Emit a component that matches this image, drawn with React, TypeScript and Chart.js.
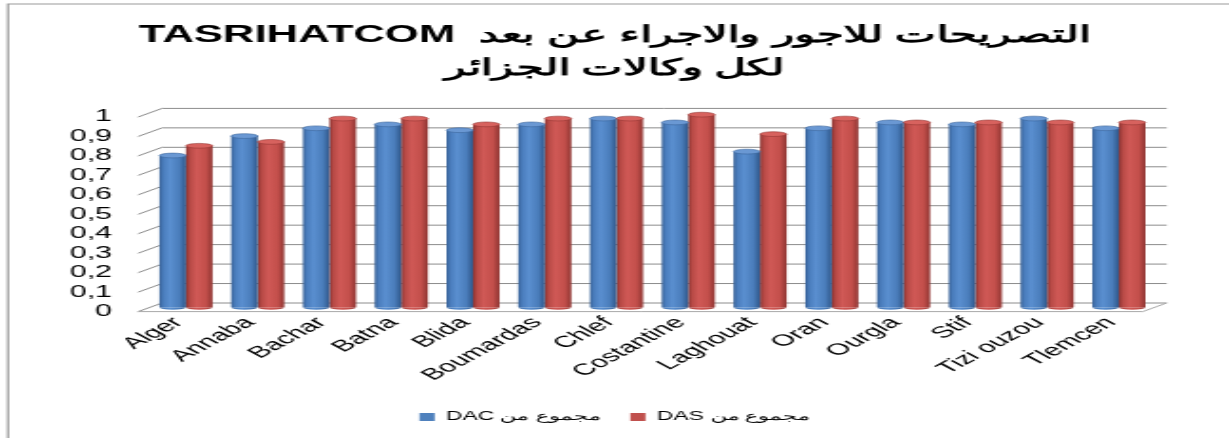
import React, { useEffect, useRef } from 'react';
import { Chart, registerables } from 'chart.js';

Chart.register(...registerables);

// ---- data ----
const categories = ['Alger', 'Annaba', 'Bachar', 'Batna', 'Blida', 'Boumardas', 'Chlef', 'Costantine', 'Laghouat', 'Oran', 'Ourgla', 'Stif', 'Tizi ouzou', 'Tlemcen'];
const dacValues = [0.78, 0.88, 0.92, 0.94, 0.91, 0.94, 0.97, 0.95, 0.80, 0.92, 0.95, 0.94, 0.97, 0.92];
const dasValues = [0.83, 0.85, 0.97, 0.97, 0.94, 0.97, 0.97, 0.99, 0.89, 0.97, 0.95, 0.95, 0.95, 0.95];
const yTickLabels = ['0', '0,1', '0,2', '0,3', '0,4', '0,5', '0,6', '0,7', '0,8', '0,9', '1'];
const seriesLabels = ['مجموع من DAC', 'مجموع من DAS'];
const titleLines = ['التصريحات للاجور والاجراء عن بعد  TASRIHATCOM', 'لكل وكالات الجزائر'];

// ---- drawing constants ----
const W = 647;
const H = 438;
const DX = 6.3;
const DY = 4.3;
const FAMILY = "'Liberation Sans', Arial, sans-serif";

const gradStops = [
  [[0, '#355f95'], [0.15, '#4a7dbd'], [0.4, '#5a8fd0'], [0.75, '#4a7dbb'], [1, '#2f578a']],
  [[0, '#8a3230'], [0.15, '#b84a46'], [0.4, '#d05956'], [0.75, '#c34f4b'], [1, '#8f3532']],
];
const capColors = ['#6a98d3', '#d7625e'];
const capEdge = ['#3c679c', '#953734'];

function makeGrad(ctx: CanvasRenderingContext2D, x: number, w: number, di: number) {
  const g = ctx.createLinearGradient(x - w / 2, 0, x + w / 2, 0);
  gradStops[di].forEach(([o, c]) => g.addColorStop(o as number, c as string));
  return g;
}

const cylinderPlugin = {
  id: 'cylinder3d',
  beforeDraw(chart: any) {
    const { ctx, width, height } = chart;
    ctx.save();
    ctx.fillStyle = '#ffffff';
    ctx.fillRect(0, 0, width, height);
    ctx.strokeStyle = '#9a9a9a';
    ctx.lineWidth = 1.2;
    ctx.beginPath();
    ctx.moveTo(4.2, height);
    ctx.lineTo(4.2, 4);
    ctx.lineTo(width, 4);
    ctx.stroke();
    ctx.restore();
  },
  beforeDatasetsDraw(chart: any) {
    const { ctx, chartArea, scales } = chart;
    const { left, right, bottom } = chartArea;
    const y = scales.y;
    ctx.save();
    ctx.strokeStyle = '#8c8c8c';
    ctx.lineWidth = 1;
    y.ticks.forEach((t: any) => {
      const py = y.getPixelForValue(t.value);
      ctx.beginPath();
      ctx.moveTo(left - DX, py + DY);
      ctx.lineTo(left + DX, py - DY);
      ctx.lineTo(right + DX, py - DY);
      ctx.stroke();
    });
    ctx.strokeStyle = '#a8a8a8';
    ctx.beginPath();
    ctx.moveTo(left - DX, bottom + DY);
    ctx.lineTo(right - DX, bottom + DY);
    ctx.lineTo(right + DX, bottom - DY);
    ctx.stroke();
    ctx.restore();

    chart.data.datasets.forEach((_ds: any, di: number) => {
      const meta = chart.getDatasetMeta(di);
      meta.data.forEach((el: any) => {
        const { x, width } = el.getProps(['x', 'width'], true);
        el.options = { ...el.options, backgroundColor: makeGrad(ctx, x, width, di), borderWidth: 0 };
      });
    });
  },
  afterDatasetsDraw(chart: any) {
    const { ctx } = chart;
    ctx.save();
    chart.data.datasets.forEach((_ds: any, di: number) => {
      const meta = chart.getDatasetMeta(di);
      meta.data.forEach((el: any) => {
        const { x, y, base, width } = el.getProps(['x', 'y', 'base', 'width'], true);
        const rx = width / 2;
        const ry = 2.4;
        ctx.beginPath();
        ctx.ellipse(x, base, rx, ry, 0, 0, Math.PI);
        ctx.fillStyle = makeGrad(ctx, x, width, di);
        ctx.fill();
        ctx.beginPath();
        ctx.ellipse(x, y, rx, ry, 0, 0, Math.PI * 2);
        ctx.fillStyle = capColors[di];
        ctx.fill();
        ctx.strokeStyle = capEdge[di];
        ctx.lineWidth = 0.6;
        ctx.stroke();
      });
    });
    ctx.restore();
  },
};

export default function App() {
  const ref = useRef<HTMLCanvasElement>(null);
  useEffect(() => {
    document.body.style.margin = '0';
    const canvas = ref.current;
    if (!canvas) return;
    const chart = new Chart(canvas, {
      type: 'bar',
      data: {
        labels: categories,
        datasets: [
          { label: seriesLabels[0], data: dacValues, backgroundColor: '#4f81bd' },
          { label: seriesLabels[1], data: dasValues, backgroundColor: '#c0504d' },
        ],
      },
      options: {
        responsive: false,
        animation: false,
        devicePixelRatio: 1,
        layout: { padding: { left: 0, right: 0, top: 0, bottom: 5 } },
        datasets: { bar: { categoryPercentage: 0.74, barPercentage: 1 } },
        plugins: {
          title: {
            display: true,
            text: titleLines,
            color: '#000',
            font: { family: FAMILY, size: 23, weight: 'bold', lineHeight: 1.435 },
            padding: { top: 19.5, bottom: 27.2 },
          },
          legend: {
            position: 'bottom',
            labels: {
              boxWidth: 8,
              boxHeight: 8,
              padding: 16,
              color: '#000',
              font: { family: FAMILY, size: 12 },
            },
          },
          tooltip: { enabled: false },
        },
        scales: {
          x: {
            offset: true,
            grid: { display: false, drawTicks: false },
            border: { display: false },
            ticks: {
              minRotation: 45,
              maxRotation: 45,
              autoSkip: false,
              padding: 6,
              labelOffset: -4,
              color: '#000',
              font: { family: FAMILY, size: 16 },
            },
            afterFit: (s: any) => { s.height = 87.7; },
          },
          y: {
            min: 0,
            max: 1,
            grid: { display: false, drawTicks: false },
            border: { display: false },
            ticks: {
              stepSize: 0.1,
              autoSkip: false,
              padding: 20,
              labelOffset: 4.3,
              color: '#000',
              font: { family: FAMILY, size: 16, lineHeight: 1 },
              callback: (v: any) => yTickLabels[Math.round(Number(v) * 10)],
            },
            afterFit: (s: any) => { s.width = 79; },
          },
          yRight: {
            position: 'right',
            min: 0,
            max: 1,
            display: true,
            grid: { display: false, drawTicks: false },
            border: { display: false },
            ticks: { display: false },
            afterFit: (s: any) => { s.width = 39.1; },
          },
        },
      } as any,
      plugins: [cylinderPlugin],
    });
    return () => chart.destroy();
  }, []);
  return (
    <div style={{ width: 1229, height: 438, overflow: 'hidden', background: '#fff' }}>
      <canvas
        ref={ref}
        width={W}
        height={H}
        style={{ width: '1229px', height: '438px', display: 'block', direction: 'rtl' }}
      />
    </div>
  );
}
